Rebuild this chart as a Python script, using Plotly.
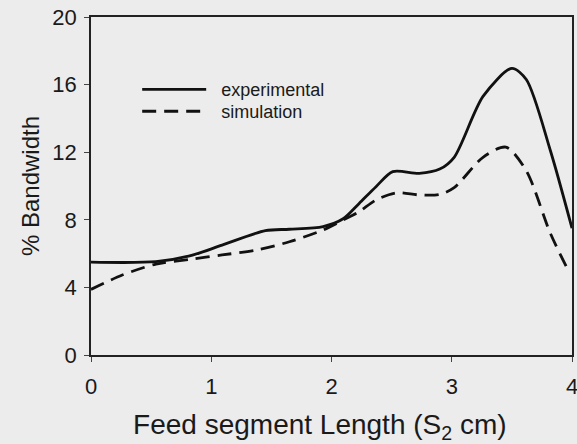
import plotly.graph_objects as go

exp_x = [0, 0.54, 0.82, 1.09, 1.45, 1.65, 1.93, 2.10, 2.23, 2.37, 2.51, 2.73, 2.90, 3.02, 3.26, 3.50, 3.62, 3.82, 4.0]
exp_y = [5.49, 5.52, 5.86, 6.5, 7.36, 7.44, 7.6, 8.08, 8.97, 9.96, 10.85, 10.75, 11.0, 11.7, 15.3, 16.96, 16.3, 12.1, 7.5]

sim_x = [0, 0.26, 0.54, 0.82, 1.09, 1.37, 1.65, 1.93, 2.10, 2.23, 2.37, 2.54, 2.73, 2.90, 3.02, 3.26, 3.45, 3.62, 3.82, 3.98]
sim_y = [3.88, 4.73, 5.38, 5.66, 5.92, 6.2, 6.7, 7.4, 8.0, 8.48, 9.17, 9.6, 9.47, 9.5, 9.9, 11.7, 12.3, 10.9, 7.2, 4.85]

x_ticks = [0, 1, 2, 3, 4]
y_ticks = [0, 4, 8, 12, 16, 20]

fig = go.Figure()
fig.add_trace(go.Scatter(x=exp_x, y=exp_y, mode="lines", name="&nbsp;&nbsp;experimental",
                         legend="legend",
                         line=dict(color="#111111", width=2.8, shape="spline", smoothing=0.8)))
fig.add_trace(go.Scatter(x=sim_x, y=sim_y, mode="lines", name="&nbsp;&nbsp;simulation",
                         legend="legend2",
                         line=dict(color="#111111", width=2.8, dash="14px,8px", shape="spline", smoothing=0.8)))

bg = "#ececec"
leg = dict(x=0.096, xanchor="left", yanchor="top", bgcolor="rgba(0,0,0,0)",
           font=dict(size=18), itemwidth=64)
fig.update_layout(
    width=577, height=444,
    margin=dict(l=91, r=5, t=17, b=89),
    paper_bgcolor=bg, plot_bgcolor=bg,
    font=dict(family="Liberation Sans, Arial, sans-serif", color="#1a1a1a"),
    showlegend=True,
    legend=dict(leg, y=0.84),
    legend2=dict(leg, y=0.775),
    xaxis=dict(range=[0, 4], tickvals=x_ticks, ticks="outside", ticklen=5,
               showline=True, linecolor="#222", linewidth=1.5, mirror=True,
               showgrid=False, zeroline=False, tickfont=dict(size=22),
               ticklabeloverflow="allow", ticklabelstandoff=6, automargin="bottom",
               title=dict(text="Feed segment Length (S<sub>2</sub> cm)&nbsp;&nbsp;&nbsp;",
                          font=dict(size=28), standoff=19)),
    yaxis=dict(range=[0, 20], tickvals=y_ticks, ticks="outside", ticklen=5,
               showline=True, linecolor="#222", linewidth=1.5, mirror=True,
               showgrid=False, zeroline=False, tickfont=dict(size=22),
               ticklabeloverflow="allow", ticklabelstandoff=3, automargin="left",
               title=dict(text="% Bandwidth", font=dict(size=24), standoff=6)),
)

fig.write_html("out.html", config={"displayModeBar": False},
               post_script="document.body.style.margin='0';document.body.style.overflow='hidden';")
